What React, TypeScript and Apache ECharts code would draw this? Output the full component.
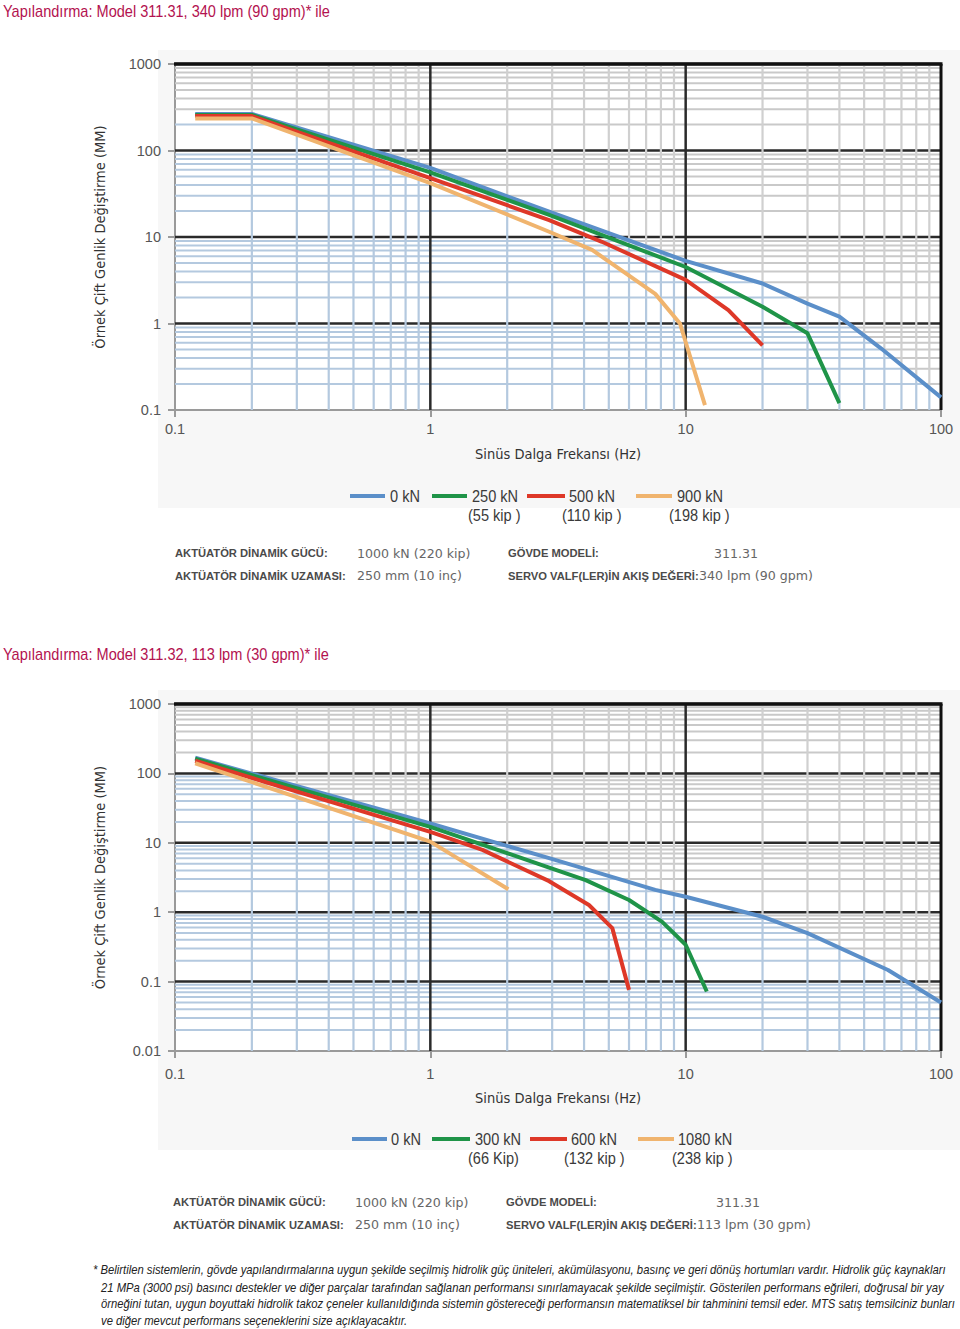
import React, { useEffect, useRef } from "react";
import * as echarts from "echarts";

// ---------- DATA ----------
const X_TICKS = [0.1, 1, 10, 100];
const X_MINOR = [0.2, 0.3, 0.4, 0.5, 0.6, 0.7, 0.8, 0.9, 2, 3, 4, 5, 6, 7, 8, 9, 20, 30, 40, 50, 60, 70, 80, 90];
const X_MAJOR_LINES = [1, 10, 100];

const Y_TICKS_TOP = [0.1, 1, 10, 100, 1000];
const Y_TICKS_BOTTOM = [0.01, 0.1, 1, 10, 100, 1000];
const Y_MINOR_TOP = [0.2, 0.3, 0.4, 0.5, 0.6, 0.7, 0.8, 0.9, 2, 3, 4, 5, 6, 7, 8, 9, 20, 30, 40, 50, 60, 70, 80, 90, 200, 300, 400, 500, 600, 700, 800, 900];
const Y_MINOR_BOTTOM = [0.02, 0.03, 0.04, 0.05, 0.06, 0.07, 0.08, 0.09, 0.2, 0.3, 0.4, 0.5, 0.6, 0.7, 0.8, 0.9, 2, 3, 4, 5, 6, 7, 8, 9, 20, 30, 40, 50, 60, 70, 80, 90, 200, 300, 400, 500, 600, 700, 800, 900];
const Y_MAJOR_TOP = [1, 10, 100, 1000];
const Y_MAJOR_BOTTOM = [0.1, 1, 10, 100, 1000];

// Chart 1: Model 311.31, 340 lpm  [frequency Hz, displacement mm]
const top0kN = [[0.12, 265], [0.2, 265], [1, 63], [2.92, 19.6], [10, 5.3], [20, 2.9], [30, 1.7], [40, 1.2], [58, 0.52], [100, 0.14]];
const top250kN = [[0.12, 258], [0.2, 258], [1, 56], [2.92, 18], [10, 4.5], [20, 1.56], [30, 0.77], [40, 0.12]];
const top500kN = [[0.12, 250], [0.2, 250], [1, 48], [2.92, 15.7], [4.7, 8.8], [10, 3.2], [14.7, 1.43], [20, 0.56]];
const top900kN = [[0.12, 235], [0.2, 235], [1, 42], [2.92, 11.5], [4.3, 7.1], [7.6, 2.2], [9.5, 1.0], [11.9, 0.114]];

// Chart 2: Model 311.32, 113 lpm
const bot0kN = [[0.12, 168], [1, 19], [2.92, 6.0], [7.6, 2.1], [10, 1.67], [20, 0.86], [30, 0.5], [62, 0.147], [100, 0.05]];
const bot300kN = [[0.12, 163], [1, 17], [2.92, 4.4], [4.06, 2.9], [6, 1.5], [8.07, 0.73], [10, 0.34], [12.1, 0.072]];
const bot600kN = [[0.12, 152], [1, 14.4], [1.6, 7.9], [2.92, 2.8], [4.18, 1.27], [5.16, 0.59], [6, 0.076]];
const bot1080kN = [[0.12, 140], [1, 10.4], [2.02, 2.14]];

const TOP_NAMES = ["0 kN", "250 kN", "500 kN", "900 kN"];
const TOP_KIPS = ["", "(55 kip )", "(110 kip )", "(198 kip )"];
const BOT_NAMES = ["0 kN", "300 kN", "600 kN", "1080 kN"];
const BOT_KIPS = ["", "(66 Kip)", "(132 kip )", "(238 kip )"];

const TITLE_TOP = "Yapılandırma: Model 311.31, 340 lpm (90 gpm)* ile";
const TITLE_BOT = "Yapılandırma: Model 311.32, 113 lpm (30 gpm)* ile";
const Y_NAME = "Örnek Çift Genlik Değiştirme (MM)";
const X_NAME = "Sinüs Dalga Frekansı (Hz)";

const INFO_TOP = [
  ["AKTÜATÖR DİNAMİK GÜCÜ:", "1000 kN (220 kip)", "GÖVDE MODELİ:", "311.31"],
  ["AKTÜATÖR DİNAMİK UZAMASI:", "250 mm (10 inç)", "SERVO VALF(LER)İN AKIŞ DEĞERİ:", "340 lpm (90 gpm)"],
];
const INFO_BOT = [
  ["AKTÜATÖR DİNAMİK GÜCÜ:", "1000 kN (220 kip)", "GÖVDE MODELİ:", "311.31"],
  ["AKTÜATÖR DİNAMİK UZAMASI:", "250 mm (10 inç)", "SERVO VALF(LER)İN AKIŞ DEĞERİ:", "113 lpm (30 gpm)"],
];

const FOOTNOTE = [
  "* Belirtilen sistemlerin, gövde yapılandırmalarına uygun şekilde seçilmiş hidrolik güç üniteleri, akümülasyonu, basınç ve geri dönüş hortumları vardır. Hidrolik güç kaynakları",
  "21 MPa (3000 psi) basıncı destekler ve diğer parçalar tarafından sağlanan performansı sınırlamayacak şekilde seçilmiştir. Gösterilen performans eğrileri, doğrusal bir yay",
  "örneğini tutan, uygun boyuttaki hidrolik takoz çeneler kullanıldığında sistemin göstereceği performansın matematiksel bir tahminini temsil eder. MTS satış temsilciniz bunları",
  "ve diğer mevcut performans seçeneklerini size açıklayacaktır.",
];

// ---------- STYLE ----------
const SANS = '"Liberation Sans", Arial, sans-serif';
const COND = '"DejaVu Sans Condensed", "Liberation Sans", sans-serif';
const NARROW_SCALE = 0.91;
const COLORS = ["#5b8fc9", "#1f9448", "#de3828", "#f0b46e"];
const GRID_GREY = "#c9c9c9";
const GRID_BLUE = "#b4c9df";
const MAJOR = "#2a2a2a";

function logInterp(data: number[][], x: number): number {
  if (x <= data[0][0]) return data[0][1];
  for (let i = 0; i < data.length - 1; i++) {
    const [x0, y0] = data[i];
    const [x1, y1] = data[i + 1];
    if (x >= x0 && x <= x1) {
      const t = (Math.log10(x) - Math.log10(x0)) / (Math.log10(x1) - Math.log10(x0));
      return Math.pow(10, Math.log10(y0) + t * (Math.log10(y1) - Math.log10(y0)));
    }
  }
  return data[data.length - 1][1];
}

function crossX(data: number[][], v: number, xMax: number): number | null {
  if (v >= data[0][1]) return null;
  for (let i = 0; i < data.length - 1; i++) {
    const [x0, y0] = data[i];
    const [x1, y1] = data[i + 1];
    if (y0 > v && y1 <= v) {
      const t = (Math.log10(v) - Math.log10(y0)) / (Math.log10(y1) - Math.log10(y0));
      return Math.pow(10, Math.log10(x0) + t * (Math.log10(x1) - Math.log10(x0)));
    }
  }
  return xMax;
}

function line(p0: number[], p1: number[], color: string, w: number) {
  return { type: "line", shape: { x1: p0[0], y1: p0[1], x2: p1[0], y2: p1[1] }, style: { stroke: color, lineWidth: w } };
}

function gridSeries(idx: number, yMin: number, yMax: number, yMinor: number[], yMajor: number[], curve: number[][]) {
  const xMin = X_TICKS[0];
  const xMax = X_TICKS[X_TICKS.length - 1];
  const base = { type: "custom", xAxisIndex: idx, yAxisIndex: idx, silent: true, animation: false, clip: false };
  return [
    {
      ...base, z: 1,
      data: yMinor.map((v) => [xMin, v]),
      renderItem: (_p: any, api: any) => {
        const v = api.value(1);
        const p0 = api.coord([xMin, v]);
        const p1 = api.coord([xMax, v]);
        const xs = crossX(curve, v, xMax);
        if (xs === null) return { type: "group", children: [line(p0, p1, GRID_GREY, 2)] };
        const pm = api.coord([xs, v]);
        return { type: "group", children: [line(p0, pm, GRID_BLUE, 2), line(pm, p1, GRID_GREY, 2)] };
      },
    },
    {
      ...base, z: 2,
      data: yMajor.map((v) => [xMin, v]),
      renderItem: (_p: any, api: any) => {
        const v = api.value(1);
        const p0 = api.coord([xMin, v]);
        const p1 = api.coord([xMax, v]);
        return line(p0, p1, MAJOR, 2.5);
      },
    },
    {
      ...base, z: 3,
      data: X_MINOR.map((u) => [u, yMin]),
      renderItem: (_p: any, api: any) => {
        const u = api.value(0);
        const p0 = api.coord([u, yMin]);
        const p1 = api.coord([u, yMax]);
        const cv = Math.min(logInterp(curve, u), yMax);
        const pm = api.coord([u, cv]);
        return { type: "group", children: [line(p0, pm, GRID_BLUE, 2.2), line(pm, p1, "#d0d0d0", 2.2)] };
      },
    },
    {
      ...base, z: 4,
      data: X_MAJOR_LINES.map((u) => [u, yMin]),
      renderItem: (_p: any, api: any) => {
        const u = api.value(0);
        const p0 = api.coord([u, yMin]);
        const p1 = api.coord([u, yMax]);
        return line(p0, p1, u === xMax ? "#111" : MAJOR, u === xMax ? 3 : 2.5);
      },
    },
    {
      ...base, z: 9,
      data: [[xMin, yMax]],
      renderItem: (_p: any, api: any) => {
        const p0 = api.coord([xMin, yMax]);
        const p1 = api.coord([xMax, yMax]);
        return line([p0[0] - 1, p0[1]], [p1[0] + 1.5, p1[1]], "#111", 3.5);
      },
    },
  ];
}

function curveSeries(idx: number, names: string[], datas: number[][][]) {
  return datas.map((d, i) => ({
    type: "line",
    name: names[i] + "#" + idx,
    xAxisIndex: idx,
    yAxisIndex: idx,
    data: d,
    showSymbol: false,
    symbol: "none",
    z: 5 + i * 0.1,
    lineStyle: { color: COLORS[i], width: 4, cap: "butt", join: "round" },
    itemStyle: { color: COLORS[i] },
  }));
}

function narrowText(x: number, y: number, text: string, extra: any = {}) {
  return {
    type: "text", x, y, scaleX: NARROW_SCALE,
    style: { text, fontFamily: SANS, fontSize: 16, fill: "#3a3a3a", verticalAlign: "middle", ...extra },
  };
}

function legendGraphics(y: number, items: number[][], names: string[], kips: string[]) {
  const out: any[] = [];
  items.forEach(([lx0, lx1, tx, kx], i) => {
    out.push({ type: "line", shape: { x1: lx0, y1: y, x2: lx1, y2: y }, style: { stroke: COLORS[i], lineWidth: 4 } });
    out.push(narrowText(tx, y, names[i]));
    if (kips[i]) out.push(narrowText(kx, y + 19, kips[i]));
  });
  return out;
}

function infoGraphics(xs: number[], y0: number, rows: string[][], row2ValX: number[]) {
  const out: any[] = [];
  rows.forEach((r, i) => {
    const y = y0 + i * 22.5;
    const lab = { fontFamily: SANS, fontWeight: "bold", fontSize: 11.2, fill: "#4a4a4a", verticalAlign: "middle" };
    const val = { fontFamily: '"DejaVu Sans", sans-serif', fontSize: 12.6, fill: "#666", verticalAlign: "middle" };
    const v1x = i === 0 ? xs[1] : row2ValX[0];
    const v2x = i === 0 ? xs[3] : row2ValX[1];
    out.push({ type: "text", x: xs[0], y, style: { ...lab, text: r[0] } });
    out.push({ type: "text", x: v1x, y, style: { ...val, text: r[1] } });
    out.push({ type: "text", x: xs[2], y, style: { ...lab, text: r[2] } });
    out.push({ type: "text", x: v2x, y, style: { ...val, text: r[3] } });
  });
  return out;
}

function axisPair(idx: number, top: number, height: number, yMin: number, yMax: number, labelMargin: number, nameGap: number) {
  const grid = { left: 175, width: 766, top, height, show: true, backgroundColor: "#ffffff", borderWidth: 0, containLabel: false };
  const xAxis = {
    type: "log", gridIndex: idx, min: X_TICKS[0], max: X_TICKS[X_TICKS.length - 1], logBase: 10,
    name: X_NAME, nameLocation: "middle", nameGap,
    nameTextStyle: { fontFamily: COND, fontSize: 14.5, color: "#333" },
    axisLine: { show: true, lineStyle: { color: "#9a9a9a", width: 2 } },
    axisTick: { show: true, length: 7, lineStyle: { color: "#9a9a9a", width: 2 } },
    axisLabel: { fontFamily: SANS, fontSize: 14.5, color: "#555", margin: labelMargin, formatter: (v: number) => String(v), showMinLabel: true, showMaxLabel: true },
    splitLine: { show: false },
  };
  const yAxis = {
    type: "log", gridIndex: idx, min: yMin, max: yMax, logBase: 10,
    name: Y_NAME, nameLocation: "middle", nameGap: 68, nameRotate: 90,
    nameTextStyle: { fontFamily: COND, fontSize: 14.5, color: "#333" },
    axisLine: { show: true, lineStyle: { color: "#9a9a9a", width: 2 } },
    axisTick: { show: true, length: 7, lineStyle: { color: "#9a9a9a", width: 2 } },
    axisLabel: { fontFamily: SANS, fontSize: 14.5, color: "#555", margin: 14, formatter: (v: number) => String(v), showMinLabel: true, showMaxLabel: true },
    splitLine: { show: false },
  };
  return { grid, xAxis, yAxis };
}

export default function App() {
  const ref = useRef<HTMLDivElement>(null);
  useEffect(() => {
    if (!ref.current) return;
    const chart = echarts.init(ref.current, undefined, { renderer: "svg" });
    const a0 = axisPair(0, 64, 346, Y_TICKS_TOP[0], Y_TICKS_TOP[Y_TICKS_TOP.length - 1], 11, 36);
    const a1 = axisPair(1, 704, 347, Y_TICKS_BOTTOM[0], Y_TICKS_BOTTOM[Y_TICKS_BOTTOM.length - 1], 15, 39);

    const graphics: any[] = [
      { type: "rect", z: -10, shape: { x: 158, y: 50, width: 802, height: 458 }, style: { fill: "#f7f7f7" } },
      { type: "rect", z: -10, shape: { x: 158, y: 690, width: 802, height: 460 }, style: { fill: "#f7f7f7" } },
      narrowText(3, 11, TITLE_TOP, { fill: "#b3124f" }),
      narrowText(3, 654, TITLE_BOT, { fill: "#b3124f" }),
      ...legendGraphics(496, [[350, 385, 390, 0], [432, 467, 472, 468], [527, 565, 569, 562], [636, 672, 677, 669]], TOP_NAMES, TOP_KIPS),
      ...legendGraphics(1139, [[352, 387, 391, 0], [432, 470, 475, 468], [530, 567, 571, 564], [638, 674, 678, 672]], BOT_NAMES, BOT_KIPS),
      ...infoGraphics([175, 357, 508, 714], 553, INFO_TOP, [357, 699]),
      ...infoGraphics([173, 355, 506, 716], 1202, INFO_BOT, [355, 697]),
      ...FOOTNOTE.map((t, i) => ({
        type: "text", x: i === 0 ? 93 : 101, y: [1269, 1287, 1303, 1320][i], scaleX: 0.94,
        style: { text: t, fontFamily: SANS, fontStyle: "italic", fontSize: 12, fill: "#222", verticalAlign: "middle" },
      })),
    ];

    chart.setOption({
      animation: false,
      backgroundColor: "#ffffff",
      grid: [a0.grid, a1.grid],
      xAxis: [a0.xAxis, a1.xAxis],
      yAxis: [a0.yAxis, a1.yAxis],
      graphic: graphics,
      series: [
        ...gridSeries(0, Y_TICKS_TOP[0], Y_TICKS_TOP[Y_TICKS_TOP.length - 1], Y_MINOR_TOP, Y_MAJOR_TOP, top0kN),
        ...gridSeries(1, Y_TICKS_BOTTOM[0], Y_TICKS_BOTTOM[Y_TICKS_BOTTOM.length - 1], Y_MINOR_BOTTOM, Y_MAJOR_BOTTOM, bot0kN),
        ...curveSeries(0, TOP_NAMES, [top0kN, top250kN, top500kN, top900kN]),
        ...curveSeries(1, BOT_NAMES, [bot0kN, bot300kN, bot600kN, bot1080kN]),
      ],
    });
    return () => chart.dispose();
  }, []);
  return <div ref={ref} style={{ position: "absolute", left: 0, top: 0, width: 960, height: 1329 }} />;
}
